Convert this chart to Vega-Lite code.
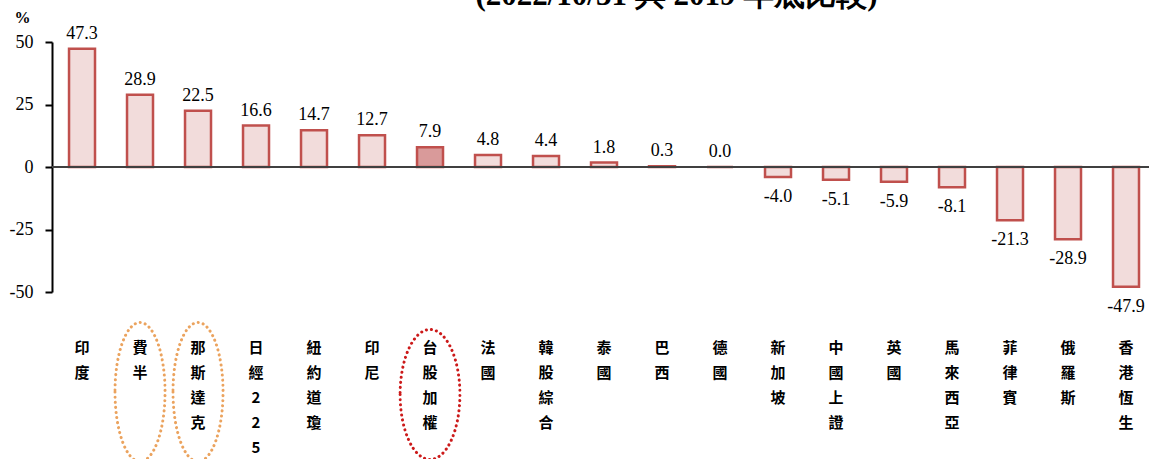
{
  "$schema": "https://vega.github.io/schema/vega-lite/v6.json",
  "width": 1097,
  "height": 250,
  "autosize": {"type": "none"},
  "padding": {"left": 52, "top": 42, "right": 0, "bottom": 167},
  "background": "white",
  "title": {
    "text": "(2022/10/31 與 2019 年底比較)",
    "font": "Times New Roman, Liberation Serif, serif",
    "fontSize": 31,
    "fontWeight": "bold",
    "color": "black",
    "anchor": "middle",
    "dx": 76,
    "offset": -3
  },
  "data": {
    "values": [
      {"name": "印度", "v": 47.3},
      {"name": "費半", "v": 28.9},
      {"name": "那斯達克", "v": 22.5},
      {"name": "日經225", "v": 16.6},
      {"name": "紐約道瓊", "v": 14.7},
      {"name": "印尼", "v": 12.7},
      {"name": "台股加權", "v": 7.9},
      {"name": "法國", "v": 4.8},
      {"name": "韓股綜合", "v": 4.4},
      {"name": "泰國", "v": 1.8},
      {"name": "巴西", "v": 0.3},
      {"name": "德國", "v": 0.0},
      {"name": "新加坡", "v": -4.0},
      {"name": "中國上證", "v": -5.1},
      {"name": "英國", "v": -5.9},
      {"name": "馬來西亞", "v": -8.1},
      {"name": "菲律賓", "v": -21.3},
      {"name": "俄羅斯", "v": -28.9},
      {"name": "香港恆生", "v": -47.9}
    ]
  },
  "encoding": {
    "x": {
      "field": "name",
      "type": "nominal",
      "sort": null,
      "scale": {"paddingInner": 0.552, "paddingOuter": 0.233, "align": 0.63},
      "axis": {
        "title": null,
        "orient": "bottom",
        "domain": false,
        "ticks": false,
        "labelAngle": 0,
        "labelExpr": "split(datum.label, '')",
        "labelLineHeight": 25,
        "labelFont": "Noto Sans CJK TC",
        "labelFontWeight": "bold",
        "labelFontSize": 15,
        "labelColor": "black",
        "labelBaseline": "top",
        "labelAlign": "center",
        "labelPadding": 48,
        "labelBound": false,
        "labelOverlap": false
      }
    }
  },
  "layer": [
    {
      "mark": {"type": "bar", "stroke": "#C0504D", "strokeWidth": 2.5},
      "encoding": {
        "y": {
          "field": "v",
          "type": "quantitative",
          "scale": {"domain": [-50, 50], "nice": false, "zero": false},
          "axis": {
            "title": "%",
            "titleAngle": 0,
            "titleX": -30,
            "titleY": -25,
            "titleAlign": "center",
            "titleBaseline": "middle",
            "titleFont": "Times New Roman, Liberation Serif, serif",
            "titleFontSize": 16,
            "titleFontWeight": "bold",
            "titleColor": "black",
            "values": [-50, -25, 0, 25, 50],
            "grid": false,
            "domainColor": "black",
            "domainWidth": 2,
            "tickColor": "black",
            "tickWidth": 2,
            "tickSize": 7,
            "labelFont": "Times New Roman, Liberation Serif, serif",
            "labelFontSize": 18,
            "labelColor": "black",
            "labelPadding": 12,
            "labelExpr": "replace(datum.label, '−', '-')"
          }
        },
        "fill": {
          "condition": {"test": "datum.name === '台股加權'", "value": "#D99A9A"},
          "value": "#F2DCDB"
        }
      }
    },
    {
      "mark": {"type": "rule", "color": "#404040", "strokeWidth": 1},
      "encoding": {"y": {"datum": 0}, "x": null}
    },
    {
      "transform": [
        {"filter": "datum.v >= 0"},
        {"calculate": "replace(format(datum.v, '.1f'), '−', '-')", "as": "lbl"}
      ],
      "mark": {"type": "text", "font": "Times New Roman, Liberation Serif, serif", "fontSize": 18, "color": "black", "baseline": "alphabetic", "dy": -10},
      "encoding": {
        "y": {"field": "v", "type": "quantitative"},
        "text": {"field": "lbl"}
      }
    },
    {
      "transform": [
        {"filter": "datum.v < 0"},
        {"calculate": "replace(format(datum.v, '.1f'), '−', '-')", "as": "lbl"}
      ],
      "mark": {"type": "text", "font": "Times New Roman, Liberation Serif, serif", "fontSize": 18, "color": "black", "baseline": "alphabetic", "dy": 25},
      "encoding": {
        "y": {"field": "v", "type": "quantitative"},
        "text": {"field": "lbl"}
      }
    },
    {
      "transform": [{"filter": "datum.name === '費半' || datum.name === '那斯達克'"}],
      "mark": {
        "type": "point",
        "shape": "M -0.36,0 A 0.36,1 0 1,0 0.36,0 A 0.36,1 0 1,0 -0.36,0 Z",
        "filled": false,
        "fill": null,
        "stroke": "#EBA35E",
        "strokeWidth": 3,
        "strokeDash": [0.1, 5],
        "strokeCap": "round",
        "opacity": 1,
        "size": 19321
      },
      "encoding": {"y": {"datum": -90}}
    },
    {
      "transform": [{"filter": "datum.name === '台股加權'"}],
      "mark": {
        "type": "point",
        "shape": "M -0.46,0 A 0.46,1 0 1,0 0.46,0 A 0.46,1 0 1,0 -0.46,0 Z",
        "filled": false,
        "fill": null,
        "stroke": "#CC1A1A",
        "strokeWidth": 3,
        "strokeDash": [0.1, 5],
        "strokeCap": "round",
        "opacity": 1,
        "size": 16900
      },
      "encoding": {"y": {"datum": -91}}
    }
  ],
  "config": {
    "view": {"stroke": null}
  }
}
